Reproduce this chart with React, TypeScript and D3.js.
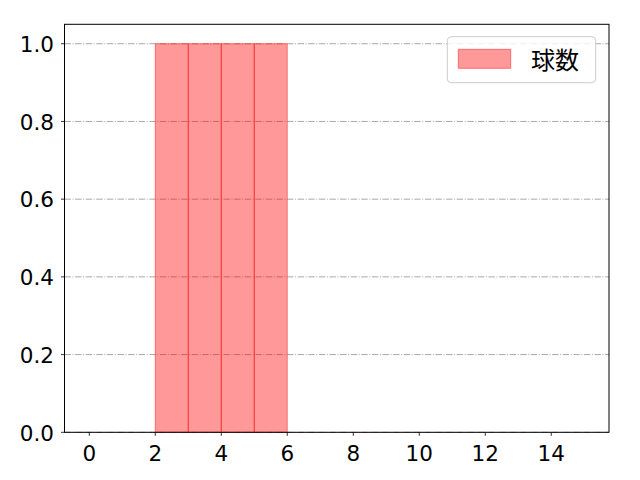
import React, { useEffect, useRef } from "react";
import * as d3 from "d3";

const binEdges = [2, 3, 4, 5];
const binCounts = [1, 1, 1, 1];
const binWidth = 1;
const xTicks = [0, 2, 4, 6, 8, 10, 12, 14];
const yTicks = [0.0, 0.2, 0.4, 0.6, 0.8, 1.0];
const legendLabel = "球数";

const W = 640;
const H = 480;
const margin = { left: 64.5, right: 31, top: 24.3, bottom: 47.7 };

export default function App() {
  const ref = useRef<SVGSVGElement | null>(null);

  useEffect(() => {
    const svg = d3.select(ref.current);
    svg.selectAll("*").remove();
    const font = "'Noto Sans CJK JP', 'Noto Sans', sans-serif";
    const tickFont = "'DejaVu Sans', sans-serif";

    const x = d3
      .scaleLinear()
      .domain([-0.75, 15.75])
      .range([margin.left, W - margin.right]);
    const y = d3
      .scaleLinear()
      .domain([0, 1.05])
      .range([H - margin.bottom, margin.top]);

    svg.append("rect").attr("width", W).attr("height", H).attr("fill", "white");

    // grid
    svg
      .append("g")
      .selectAll("line")
      .data(yTicks)
      .join("line")
      .attr("x1", x.range()[0])
      .attr("x2", x.range()[1])
      .attr("y1", (d) => y(d))
      .attr("y2", (d) => y(d))
      .attr("stroke", "#a8a8a8")
      .attr("stroke-width", 1)
      .attr("stroke-dasharray", "6.4,1.6,1,1.6");

    // bars
    svg
      .append("g")
      .selectAll("rect")
      .data(binEdges.map((e, i) => ({ e, c: binCounts[i] })))
      .join("rect")
      .attr("x", (d) => x(d.e))
      .attr("width", (d) => x(d.e + binWidth) - x(d.e))
      .attr("y", (d) => y(d.c))
      .attr("height", (d) => y(0) - y(d.c))
      .attr("fill", "rgba(255,0,0,0.4)")
      .attr("stroke", "rgba(255,0,0,0.45)")
      .attr("stroke-width", 1);

    // spines
    const [x0, x1] = x.range();
    const [yb, yt] = y.range();
    svg
      .append("rect")
      .attr("x", x0)
      .attr("y", yt)
      .attr("width", x1 - x0)
      .attr("height", yb - yt)
      .attr("fill", "none")
      .attr("stroke", "black")
      .attr("stroke-width", 1);

    // x ticks
    const gx = svg.append("g");
    xTicks.forEach((t) => {
      gx.append("line")
        .attr("x1", x(t))
        .attr("x2", x(t))
        .attr("y1", yb)
        .attr("y2", yb + 3.5)
        .attr("stroke", "black")
        .attr("stroke-width", 0.8);
      gx.append("text")
        .attr("x", x(t))
        .attr("y", yb + 28.7)
        .attr("text-anchor", "middle")
        .attr("font-family", tickFont)
        .attr("font-size", 21.5)
        .attr("fill", "black")
        .text(String(t));
    });

    // y ticks
    const gy = svg.append("g");
    yTicks.forEach((t) => {
      gy.append("line")
        .attr("x1", x0 - 3.5)
        .attr("x2", x0)
        .attr("y1", y(t))
        .attr("y2", y(t))
        .attr("stroke", "black")
        .attr("stroke-width", 0.8);
      gy.append("text")
        .attr("x", x0 - 10.5)
        .attr("y", y(t) + 8.2)
        .attr("text-anchor", "end")
        .attr("font-family", tickFont)
        .attr("font-size", 21.5)
        .attr("fill", "black")
        .text(t.toFixed(1));
    });

    // legend
    const lg = svg.append("g");
    lg.append("rect")
      .attr("x", 447.3)
      .attr("y", 36.7)
      .attr("width", 148.4)
      .attr("height", 46)
      .attr("rx", 4)
      .attr("fill", "rgba(255,255,255,0.8)")
      .attr("stroke", "#cccccc")
      .attr("stroke-width", 1);
    lg.append("rect")
      .attr("x", 458.3)
      .attr("y", 49.3)
      .attr("width", 52.4)
      .attr("height", 19)
      .attr("fill", "rgba(255,0,0,0.4)")
      .attr("stroke", "rgba(255,0,0,0.45)")
      .attr("stroke-width", 1);
    lg.append("text")
      .attr("x", 531)
      .attr("y", 58.5)
      .attr("dominant-baseline", "central")
      .attr("font-family", font)
      .attr("font-size", 24)
      .attr("fill", "black")
      .text(legendLabel);
  }, []);

  return (
    <svg
      ref={ref}
      width={W}
      height={H}
      style={{ position: "absolute", left: 0, top: 0, display: "block" }}
    />
  );
}
